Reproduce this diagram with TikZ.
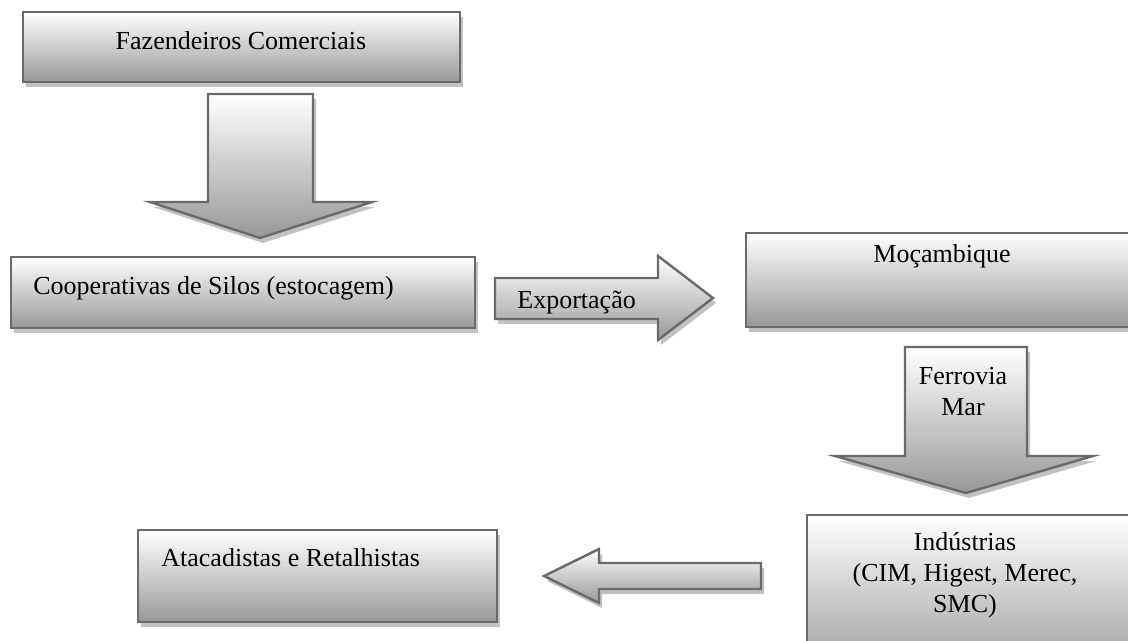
\documentclass[tikz,border=0pt]{standalone}
\usepackage{fontspec}
\setmainfont{Liberation Serif}
\usetikzlibrary{shadows}
\definecolor{rimgray}{HTML}{6A6A6A}
\definecolor{shadegray}{HTML}{989898}
\definecolor{shadowgray}{HTML}{C2C2C2}
\tikzset{
	blok/.style={draw=rimgray, line width=1.2pt, top color=white, bottom color=shadegray,
		drop shadow={shadow xshift=1.5pt, shadow yshift=-2.5pt, fill=shadowgray, opacity=1}},
	boks/.style={blok, rectangle, inner sep=0pt},
	txt/.style={inner sep=0pt, font=\fontsize{13pt}{15.5pt}\selectfont, align=center}
}
\begin{document}
\begin{tikzpicture}[x=0.5pt, y=-0.5pt, line join=miter]
	\useasboundingbox (0,0) rectangle (1128,641);
	\clip (0,0) rectangle (1128,641);
	% caixas
	\node[boks, minimum width=218.5pt, minimum height=35pt] (faz) at (241.5,47) {};
	\node[boks, minimum width=232pt, minimum height=35.5pt] (coop) at (243,292.5) {};
	\node[boks, minimum width=196pt, minimum height=47pt] (moc) at (942,280) {};
	\node[boks, minimum width=164pt, minimum height=82.5pt] (ind) at (971,597.5) {};
	\node[boks, minimum width=179.5pt, minimum height=46pt] (atac) at (317.5,576) {};
	% setas
	\path[blok] (208,94) -- (313,94) -- (313,202) -- (372,202) -- (260,238) -- (150,202) -- (208,202) -- cycle;
	\path[blok] (495,278) -- (658,278) -- (658,256) -- (713,298) -- (658,340) -- (658,319) -- (495,319) -- cycle;
	\path[blok] (905,347) -- (1027,347) -- (1027,456) -- (1093,456) -- (966,493) -- (835,456) -- (905,456) -- cycle;
	\path[blok] (761,563) -- (761,589) -- (599,589) -- (599,603) -- (544,576) -- (599,549) -- (599,563) -- cycle;
	% textos
	\node[txt, anchor=base] (tfaz) at (241,50) {Fazendeiros Comerciais};
	\node[txt, anchor=base west] (tcoop) at (33,295) {Cooperativas de Silos (estocagem)};
	\node[txt, anchor=base west] (texp) at (517,308) {Exportação};
	\node[txt, anchor=base] (tmoc) at (942,263) {Moçambique};
	\node[txt] (tfer) at (963,392) {Ferrovia\\Mar};
	\node[txt] (tind) at (965,575) {Indústrias\\(CIM, Higest, Merec,\\SMC)};
	\node[txt, anchor=base west] (tatac) at (161,566) {Atacadistas e Retalhistas};
\end{tikzpicture}
\end{document}
